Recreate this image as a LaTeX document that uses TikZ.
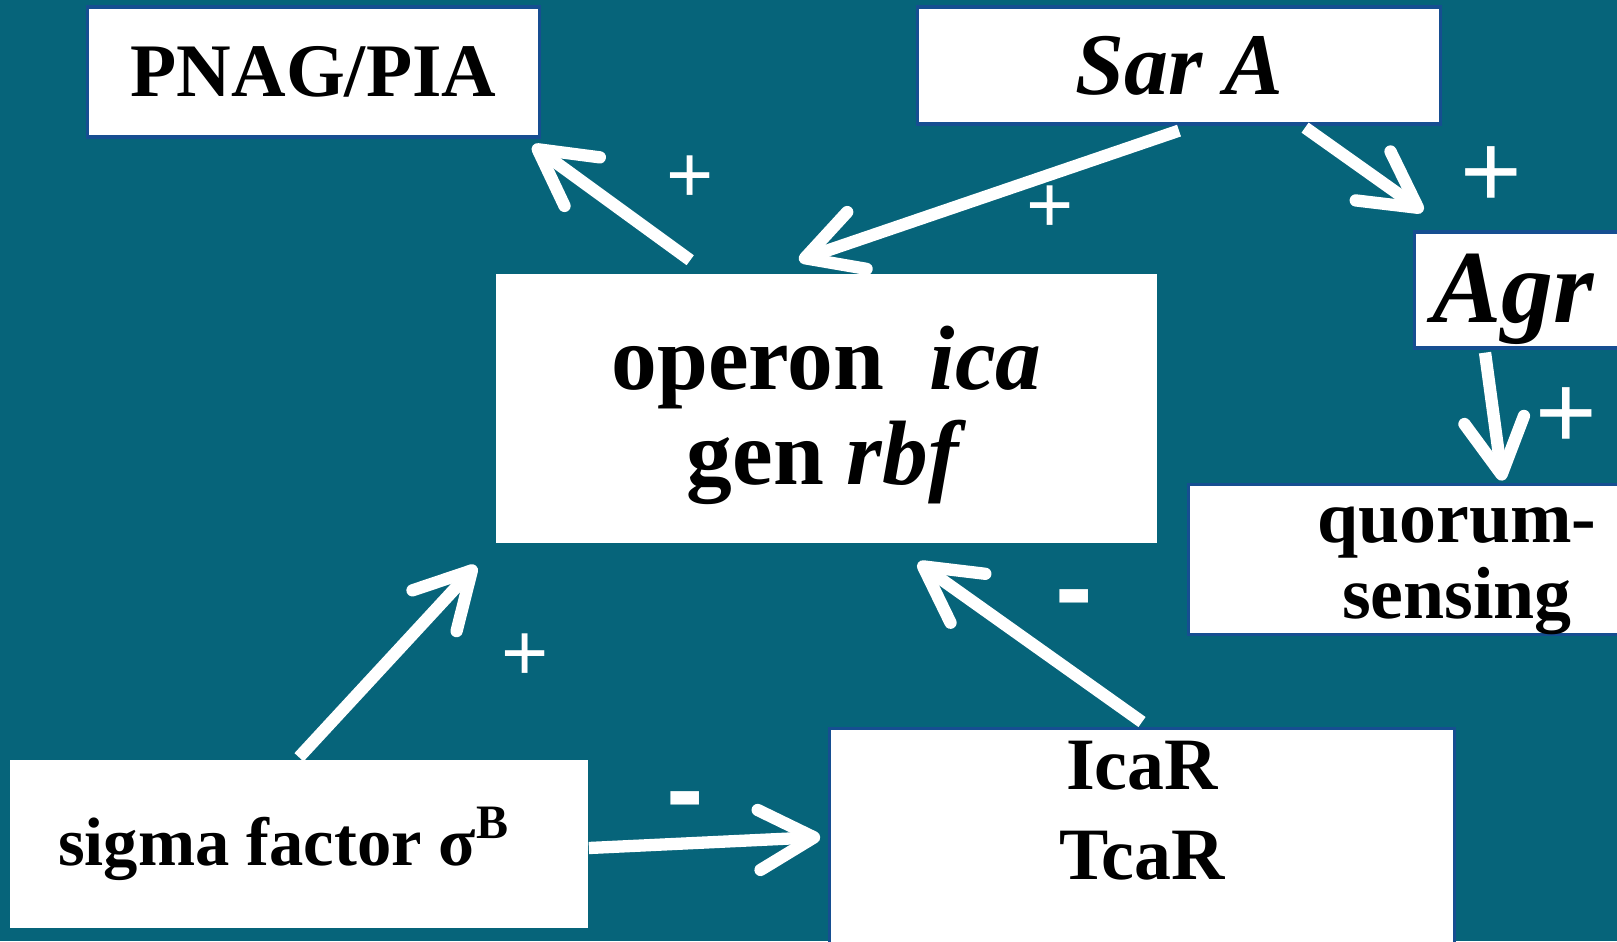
\documentclass[tikz,border=0pt]{standalone}
\usepackage{fontspec}
\setmainfont{Liberation Serif}
\newfontfamily\signfont{Liberation Sans}
\usepackage{tikz}
\usetikzlibrary{positioning}
\usetikzlibrary{arrows.meta}
\definecolor{bgteal}{RGB}{6,100,122}
\definecolor{edgeblue}{RGB}{22,78,145}
\tikzset {
  % white boxes with a thin blue edge
  edged/.style = {draw=edgeblue, fill=white, line width=0.9pt, inner sep=0pt},
  % white boxes without edge
  bare/.style = {fill=white, inner sep=0pt},
  % signs next to the arrows
  plussign/.style = {text=white, inner sep=0pt, font=\signfont\fontsize{23}{23}\selectfont},
  bigplus/.style = {plussign, font=\signfont\fontsize{30}{30}\selectfont},
  minussign/.style = {text=white, inner sep=0pt, font=\signfont\bfseries\fontsize{32}{32}\selectfont},
  % thick white arrows
  >={Straight Barb[length=5.5mm, width=6mm, round]},
  act/.style = {draw=white, line width=3.5pt},
}

\begin{document}
\begin{tikzpicture}[x=0.01cm, y=-0.01cm]
      \useasboundingbox (0,0) rectangle (1617,941);
      \fill[bgteal] (0,0) rectangle (1617,941);

      \node[edged, minimum width=4.51cm, minimum height=1.30cm,
        font=\fontsize{21.5}{24}\selectfont\bfseries] (pnag) at (313.5,72) {PNAG/PIA};
      \node[edged, minimum width=5.22cm, minimum height=1.17cm,
        font=\fontsize{25}{28}\selectfont\bfseries\itshape] (sara) at (1179,65.5) {Sar A};
      \node[edged, anchor=west, minimum height=1.16cm, inner xsep=0.18cm, text width=2.2cm, align=left,
        font=\fontsize{29.5}{30}\selectfont\bfseries\itshape] (agr) at (1413,290) {\rule{0pt}{24.5pt}Agr};

      \node[bare, minimum width=6.61cm, minimum height=2.69cm, align=center,
        font=\fontsize{26}{27}\selectfont\bfseries] (operon) at (826.5,408.5) {\rule{0pt}{22.2pt}operon~~\textit{ica}\\gen \textit{rbf}};
      \node[edged, minimum width=5.36cm, minimum height=1.45cm, align=center,
        font=\fontsize{21}{21.5}\selectfont\bfseries] (quorum) at (1457,559.5) {\rule{0pt}{16.7pt}quorum-\\sensing};

      \node[bare, minimum width=5.78cm, minimum height=1.68cm,
        font=\fontsize{19.5}{22}\selectfont\bfseries] (sigma) at (299,844) {sigma factor σ\textsuperscript{B}\hspace*{8.5pt}};
      \node[edged, anchor=north, minimum width=6.24cm, inner ysep=0.13cm, text depth=2cm, align=center,
        font=\fontsize{21}{25.5}\selectfont\bfseries] (icar) at (1142,727) {IcaR\\TcaR};

      \draw [->, act] ([xshift=1.95cm, yshift=0.13cm]operon.north west) -- ([xshift=-0.08cm, yshift=-0.07cm]pnag.south east);
      \draw [->, act] ([yshift=-0.05cm]sara.south) -- ([xshift=-0.275cm, yshift=0.13cm]operon.north);
      \draw [->, act] ([xshift=1.26cm, yshift=-0.02cm]sara.south) -- ([xshift=0.10cm, yshift=0.19cm]agr.north west);
      \draw [->, act] ([xshift=0.72cm, yshift=-0.03cm]agr.south west) -- ([xshift=3.15cm, yshift=0.02cm]quorum.north west);
      \draw [->, act] ([yshift=0.02cm]sigma.north) -- ([xshift=-0.19cm, yshift=-0.22cm]operon.south west);
      \draw [->, act] ([yshift=0.05cm]icar.north) -- ([xshift=0.915cm, yshift=-0.19cm]operon.south);
      \draw [->, act] ([yshift=-0.04cm]sigma.east) -- ([xshift=-0.08cm, yshift=-1.10cm]icar.north west);

      \node[plussign] (p1) at (690,179) {+};
      \node[plussign] (p2) at (1050,209) {+};
      \node[bigplus] (p3) at (1491,177) {+};
      \node[bigplus] (p4) at (1566,418) {+};
      \node[plussign] (p5) at (525,657) {+};
      \node[minussign] (m1) at (1074,608) {-};
      \node[minussign] (m2) at (685,810) {-};
    \end{tikzpicture}
\end{document}
